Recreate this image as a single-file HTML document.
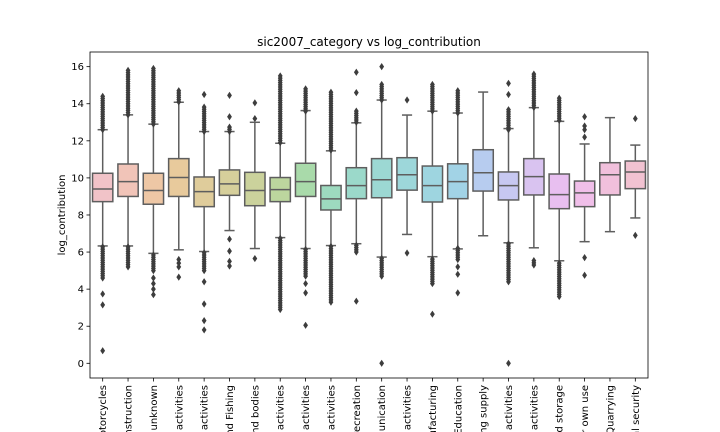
<!DOCTYPE html>
<html><head><meta charset="utf-8"><style>
html,body{margin:0;padding:0;background:#fff;overflow:hidden;width:720px;height:432px}
svg{display:block;overflow:hidden;font-family:"DejaVu Sans","Liberation Sans",sans-serif}
</style></head><body>
<svg id="chart" width="720" height="432" viewBox="0 0 720 432">
<defs><clipPath id="frameclip"><rect x="0" y="0" width="720" height="432"/></clipPath></defs>
<g id="root" clip-path="url(#frameclip)"></g>
</svg>
<script>
const categories=["Wholesale and retail trade; repair of motor vehicles and motorcycles","Construction","unknown","Professional, scientific and technical activities","Administrative and support service activities","Agriculture, Forestry and Fishing","Activities of extraterritorial organisations and bodies","Financial and insurance activities","Real estate activities","Other service activities","Arts, entertainment and recreation","Information and communication","Human health and social work activities","Manufacturing","Education","Electricity, gas, steam and air conditioning supply","Accommodation and food service activities","Water supply, sewerage, waste management and remediation activities","Transportation and storage","Activities of households as employers; undifferentiated goods- and services-producing activities of households for own use","Mining and Quarrying","Public administration and defence; compulsory social security"];
const q1=[8.72,9.0,8.58,9.0,8.45,9.06,8.5,8.72,9.0,8.27,8.88,8.93,9.34,8.7,8.88,9.29,8.81,9.08,8.34,8.45,9.08,9.42];
const medians=[9.4,9.8,9.32,10.02,9.26,9.68,9.32,9.37,9.8,8.87,9.58,9.9,10.17,9.58,9.8,10.28,9.58,10.07,9.1,9.19,10.17,10.32];
const q3=[10.25,10.75,10.25,11.04,10.05,10.43,10.3,10.02,10.79,9.59,10.55,11.04,11.09,10.64,10.76,11.52,10.32,11.04,10.21,9.83,10.82,10.91];
const whiskerLow=[6.33,6.33,5.93,6.12,6.03,7.16,6.19,6.78,6.19,6.35,6.45,5.73,6.95,5.75,6.17,6.88,6.5,6.23,5.53,6.56,7.1,7.84];
const whiskerHigh=[12.6,13.4,12.9,14.08,12.5,12.5,13.0,11.87,13.63,11.46,12.97,14.2,13.39,13.6,13.5,14.63,12.66,13.79,13.05,11.83,13.25,11.77];
const denseOutliers=[[[12.6,14.4],[4.6,6.3]],[[13.4,15.9],[5.2,6.3]],[[12.9,16.0],[5.0,5.9]],[[14.1,14.8]],[[12.5,13.9],[5.0,6.0]],[[12.5,12.8]],[],[[11.9,15.5],[2.9,6.8]],[[13.6,14.85],[4.7,6.2]],[[11.5,14.7],[3.3,6.3]],[[13.0,13.7],[6.0,6.4]],[[14.2,15.1],[4.7,5.7]],[],[[13.6,15.1],[4.3,5.7]],[[13.5,14.7],[5.6,6.2]],[],[[12.6,13.7],[4.4,6.5]],[[13.8,15.7],[5.3,5.6]],[[13.1,14.3],[3.6,5.5]],[],[],[]];
const singleOutliers=[[3.74,3.15,0.68],[],[4.6,4.3,4.0,3.7],[5.6,5.4,5.2,4.65],[14.5,4.4,3.2,2.3,1.8],[13.3,14.45,6.7,6.05,5.5,5.25],[13.2,14.05,5.65],[],[4.3,3.8,2.05],[],[14.6,15.7,3.35],[16.0,0.0],[14.2,5.95],[2.65],[5.2,4.8,3.8],[],[14.5,15.1,0.0],[],[],[12.2,12.6,12.8,13.3,5.7,4.75],[],[13.2,6.9]];
const yTicks=[0,2,4,6,8,10,12,14,16];
const colors=["#f1c3c8","#f1c4b8","#eec7a5","#e8ca9c","#dfcc9b","#d6cf9b","#cbd29c","#bcd69e","#a9daaa","#9ddabf","#9bd9ca","#9cd8d3","#9dd7da","#9ed5e0","#a2d3e6","#b7ccef","#c7c8f1","#d9c3f0","#e8bff0","#f0bfe9","#f1c0dc","#f1c2d1"];

const L=90,R=648,T=52,B=378;
const y=v=>363.3-(v)*18.54;
const band=(R-L)/categories.length;
const xc=i=>L+band*(i+0.5);
const NS="http://www.w3.org/2000/svg";
const svg=document.getElementById('root');
function mk(tag,attrs,parent){const e=document.createElementNS(NS,tag);for(const k in attrs)e.setAttribute(k,attrs[k]);(parent||svg).appendChild(e);return e;}

const t=mk('text',{x:369,y:46,'text-anchor':'middle','font-size':12,fill:'#000'});


t.textContent='sic2007_category vs log_contribution';

const yl=mk('text',{transform:'translate(65,215) rotate(-90)','text-anchor':'middle','font-size':10,fill:'#000'});


yl.textContent='log_contribution';

yTicks.forEach(v=>{
  const g=mk('g',{});
  
  
  mk('line',{x1:L-3.5,x2:L,y1:y(v),y2:y(v),stroke:'#000','stroke-width':0.8},g);
  const tx=mk('text',{x:L-6,y:y(v)+3.5,'text-anchor':'end','font-size':10,fill:'#000'},g);
  tx.textContent=v;
});

function diamond(cx,cy,g){mk('path',{d:`M${cx} ${cy-3.6}L${cx+2.4} ${cy}L${cx} ${cy+3.6}L${cx-2.4} ${cy}Z`,fill:'#3d3d3d'},g);}

categories.forEach((c,i)=>{
  const x=xc(i),w=band*0.8;
  const g=mk('g',{});
  
  
  const ec='#5e5e5e';
  mk('line',{x1:x,x2:x,y1:y(q3[i]),y2:y(whiskerHigh[i]),stroke:ec,'stroke-width':1.5},g);
  mk('line',{x1:x,x2:x,y1:y(q1[i]),y2:y(whiskerLow[i]),stroke:ec,'stroke-width':1.5},g);
  mk('line',{x1:x-w/4,x2:x+w/4,y1:y(whiskerHigh[i]),y2:y(whiskerHigh[i]),stroke:ec,'stroke-width':1.5},g);
  mk('line',{x1:x-w/4,x2:x+w/4,y1:y(whiskerLow[i]),y2:y(whiskerLow[i]),stroke:ec,'stroke-width':1.5},g);
  mk('rect',{x:x-w/2,y:y(q3[i]),width:w,height:y(q1[i])-y(q3[i]),fill:colors[i],stroke:ec,'stroke-width':1.5},g);
  mk('line',{x1:x-w/2,x2:x+w/2,y1:y(medians[i]),y2:y(medians[i]),stroke:ec,'stroke-width':1.5},g);
  denseOutliers[i].forEach(r=>{for(let v=r[0];v<=r[1]+1e-6;v+=0.12)diamond(x,y(v),g);});
  singleOutliers[i].forEach(v=>diamond(x,y(v),g));
  const tk=mk('line',{x1:x,x2:x,y1:B,y2:B+3.5,stroke:'#000','stroke-width':0.8});
  
  
  const lb=mk('text',{transform:`translate(${x+3.5},${B+7}) rotate(-90)`,'text-anchor':'end','font-size':10,fill:'#000'});
  
  
  lb.textContent=c;
});

const fr=mk('rect',{x:L,y:T,width:R-L,height:B-T,fill:'none',stroke:'#000','stroke-width':0.8});


</script>
</body></html>
